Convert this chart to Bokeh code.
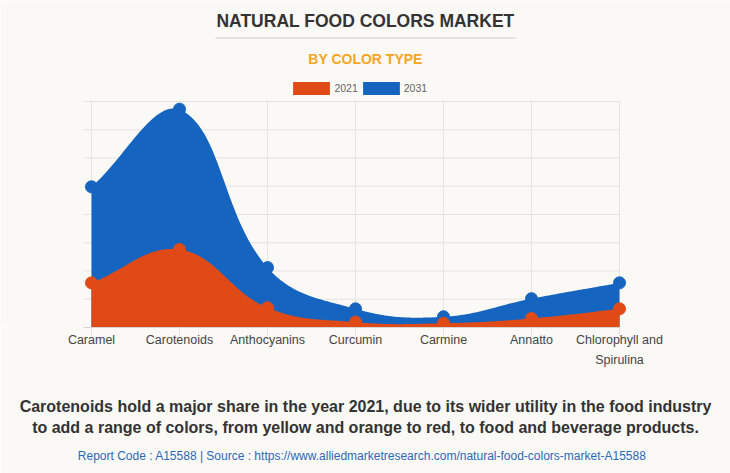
import numpy as np
from bokeh.plotting import figure
from bokeh.models import (Title, Label, BoxAnnotation, FixedTicker, Range1d, Legend, LegendItem)
from bokeh.embed import file_html
from bokeh.resources import INLINE

# ---------------- data ----------------
categories = ["Caramel", "Carotenoids", "Anthocyanins", "Curcumin", "Carmine",
              "Annatto", "Chlorophyll and\nSpirulina"]
values_2021 = [1.58, 2.76, 0.70, 0.19, 0.15, 0.32, 0.66]
values_2031 = [4.98, 7.73, 2.12, 0.66, 0.38, 1.02, 1.58]
series_names = ["2021", "2031"]
y_ticks = [0, 1, 2, 3, 4, 5, 6, 7, 8]

title_text = "NATURAL FOOD COLORS MARKET"
subtitle_text = "BY COLOR TYPE"
footer_text = ("Carotenoids hold a major share in the year 2021, due to its wider utility in the food industry\n"
               "to add a range of colors, from yellow and orange to red, to food and beverage products.")
source_text = "Report Code : A15588  |  Source : https://www.alliedmarketresearch.com/natural-food-colors-market-A15588"

# ---------------- style / layout (pixels) ----------------
ORANGE = "#E04A16"
BLUE = "#1565C0"
BG = "#FAF9F5"
GRID = "#e4e3df"
FONT = "Liberation Sans"
W, H = 730, 473
BOTTOM = 146                  # space under the plotting area (labels, footnote, source)
PLOT_LEFT_PX, STEP_PX = 91, 88    # first category position and category spacing
PLOT_TOP_PX = 101                  # pixel row of the top gridline
TICK_PX = 8
frame_h = H - BOTTOM
kx = STEP_PX
ky = (frame_h - PLOT_TOP_PX) / (y_ticks[-1] - y_ticks[0])
x_start = -PLOT_LEFT_PX / kx
x_end = (W - PLOT_LEFT_PX) / kx
y_start = y_ticks[0]
y_end = y_ticks[0] + frame_h / ky
n_cat = len(categories)


def spline_path(ys, tension=0.4, n=40):
    """Chart.js-style cubic spline through the points, sampled for drawing."""
    xs = np.arange(len(ys), dtype=float) * kx
    yv = np.asarray(ys, dtype=float) * ky
    N = len(xs)
    cps = []
    for i in range(N):
        px, py = (xs[i - 1], yv[i - 1]) if i > 0 else (xs[i], yv[i])
        nx, ny = (xs[i + 1], yv[i + 1]) if i < N - 1 else (xs[i], yv[i])
        d01 = np.hypot(xs[i] - px, yv[i] - py)
        d12 = np.hypot(nx - xs[i], ny - yv[i])
        tot = d01 + d12
        s01 = d01 / tot if tot else 0
        s12 = d12 / tot if tot else 0
        fa, fb = tension * s01, tension * s12
        pcx, pcy = xs[i] - fa * (nx - px), yv[i] - fa * (ny - py)
        ncx, ncy = xs[i] + fb * (nx - px), yv[i] + fb * (ny - py)
        pcx, ncx = np.clip([pcx, ncx], xs[0], xs[-1])
        pcy, ncy = np.clip([pcy, ncy], y_ticks[0] * ky, y_ticks[-1] * ky)
        cps.append(((pcx, pcy), (ncx, ncy)))
    out_x, out_y = [], []
    for i in range(N - 1):
        t = np.linspace(0, 1, n, endpoint=(i == N - 2))
        p0 = (xs[i], yv[i]); p3 = (xs[i + 1], yv[i + 1])
        c1 = cps[i][1]; c2 = cps[i + 1][0]
        bx = (1 - t) ** 3 * p0[0] + 3 * (1 - t) ** 2 * t * c1[0] + 3 * (1 - t) * t ** 2 * c2[0] + t ** 3 * p3[0]
        by = (1 - t) ** 3 * p0[1] + 3 * (1 - t) ** 2 * t * c1[1] + 3 * (1 - t) * t ** 2 * c2[1] + t ** 3 * p3[1]
        out_x.extend(bx / kx)
        out_y.extend(by / ky)
    return np.array(out_x), np.array(out_y)


p = figure(width=W, height=H, output_backend="svg", toolbar_location=None,
           x_range=Range1d(x_start, x_end), y_range=Range1d(y_start, y_end),
           y_axis_location=None,
           min_border_left=0, min_border_right=0, min_border_top=0, min_border_bottom=BOTTOM,
           background_fill_color=BG, border_fill_color=BG)
p.outline_line_color = None
p.grid.visible = False

# guide lines limited to the plotting area
cat_x = list(range(n_cat))
tick_ext = -TICK_PX / kx
p.segment(x0=[tick_ext] * len(y_ticks), y0=y_ticks, x1=[cat_x[-1]] * len(y_ticks), y1=y_ticks,
          line_color=GRID, line_width=1)
p.segment(x0=cat_x, y0=[y_ticks[0]] * n_cat, x1=cat_x, y1=[y_ticks[-1]] * n_cat,
          line_color=GRID, line_width=1)

ax = p.xaxis[0]
ax.ticker = FixedTicker(ticks=cat_x)
ax.bounds = (tick_ext, cat_x[-1])
ax.major_label_overrides = {i: c for i, c in enumerate(categories)}
ax.axis_line_color = "#d6d5d1"
ax.major_tick_line_color = GRID
ax.major_tick_out = TICK_PX
ax.major_tick_in = 0
ax.minor_tick_line_color = None
ax.major_label_text_font = FONT
ax.major_label_text_font_size = "12.5px"
ax.major_label_text_color = "#444444"
ax.major_label_text_line_height = 1.435
ax.major_label_standoff = -3
# footnote under the category labels
ax.axis_label = footer_text
ax.axis_label_standoff = 28
ax.axis_label_text_font = FONT
ax.axis_label_text_font_style = "bold"
ax.axis_label_text_font_size = "16px"
ax.axis_label_text_color = "#333333"
ax.axis_label_text_line_height = 1.27

bx, by = spline_path(values_2031)
ox, oy = spline_path(values_2021)
r_blue = p.varea(x=bx, y1=0, y2=by, fill_color=BLUE)
p.scatter(x=cat_x, y=values_2031, size=12, fill_color=BLUE, line_color=BLUE)
r_orange = p.varea(x=ox, y1=0, y2=oy, fill_color=ORANGE)
p.scatter(x=cat_x, y=values_2021, size=12, fill_color=ORANGE, line_color=ORANGE)


def sy(page_y):
    return frame_h - page_y


# header (inside the plotting frame, above the chart area)
p.add_layout(Label(x=W / 2, y=sy(20.5), x_units="screen", y_units="screen", text=title_text,
                   text_align="center", text_baseline="middle", text_font=FONT,
                   text_font_style="bold", text_font_size="17.5px", text_color="#333333"))
p.add_layout(BoxAnnotation(left=W / 2 - 150, right=W / 2 + 150, bottom=sy(38), top=sy(37),
                           left_units="screen", right_units="screen",
                           top_units="screen", bottom_units="screen",
                           fill_color="#cccccc", fill_alpha=1, line_color=None))
p.add_layout(Label(x=W / 2, y=sy(58.5), x_units="screen", y_units="screen", text=subtitle_text,
                   text_align="center", text_baseline="middle", text_font=FONT,
                   text_font_style="bold", text_font_size="14px", text_color="#F7A51E"))

legend = Legend(items=[LegendItem(label=series_names[0], renderers=[r_orange]),
                       LegendItem(label=series_names[1], renderers=[r_blue])],
                location=(288.4, sy(95.6)), orientation="horizontal",
                glyph_width=46, glyph_height=16, label_height=16, label_standoff=0,
                spacing=0, padding=0, margin=0, border_line_color=None,
                background_fill_alpha=0, label_text_font_size="10.5px",
                label_text_color="#666666", label_text_font=FONT)
p.add_layout(legend, "center")

# source line
p.add_layout(Title(text=source_text, align="center", vertical_align="bottom", standoff=14,
                   text_font=FONT, text_font_style="normal", text_font_size="12px",
                   text_color="#2A68B8"), "below")

open("out.html", "w").write(file_html(p, INLINE))
